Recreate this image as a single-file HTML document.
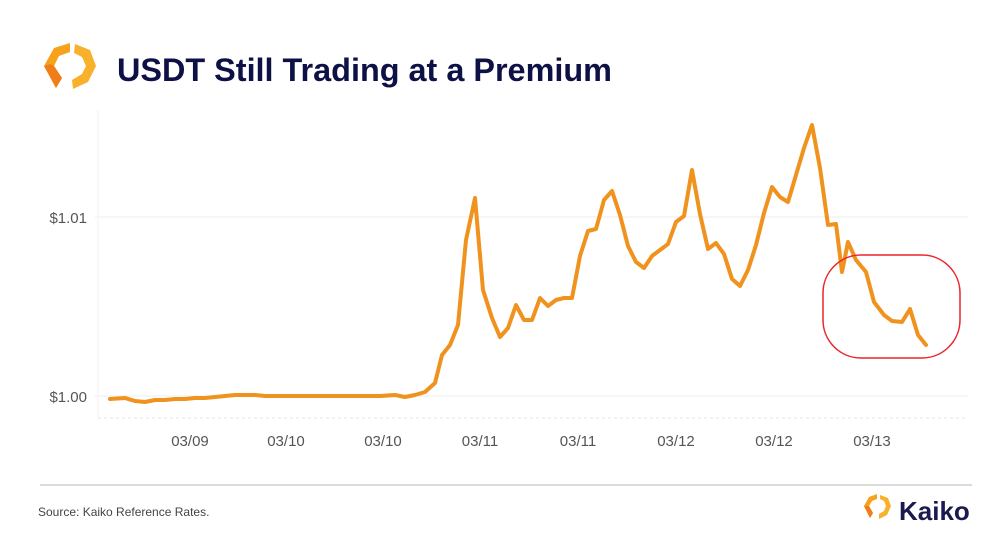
<!DOCTYPE html>
<html><head><style>
body{margin:0;width:1008px;height:546px;background:#fff;overflow:hidden;font-family:"Liberation Sans",sans-serif}
</style></head><body>
<svg width="1008" height="546" viewBox="0 0 1008 546" xmlns="http://www.w3.org/2000/svg" style="position:absolute;left:0;top:0">
<g>
<polygon points="70,43 54,48 44,66 56,88 62,78 54,66 59,56 70,52" fill="#f7a21b"/>
<polygon points="44,66 56,88 62,78 54,66 50,64" fill="#f07d18"/>
<polygon points="75,44 90,50 96,66 88,82 73,89 72,80 82,74 86,66 82,57 74,53" fill="#f9b02a"/>
</g>
<text x="117" y="81" font-size="32.4" font-weight="bold" fill="#0e1145" font-family="Liberation Sans,sans-serif">USDT Still Trading at a Premium</text>
<line x1="95" y1="217" x2="968" y2="217" stroke="#ececec" stroke-width="1"/>
<line x1="95" y1="396" x2="968" y2="396" stroke="#ececec" stroke-width="1"/>
<line x1="98" y1="418" x2="968" y2="418" stroke="#e6e6e6" stroke-width="1" stroke-dasharray="3,3"/>
<line x1="98" y1="110" x2="98" y2="418" stroke="#f2f2f2" stroke-width="1"/>
<text x="87" y="223" font-size="15" fill="#555" text-anchor="end">$1.01</text>
<text x="87" y="402" font-size="15" fill="#555" text-anchor="end">$1.00</text>
<g font-size="15" fill="#555" text-anchor="middle">
<text x="190" y="446">03/09</text><text x="286" y="446">03/10</text><text x="383" y="446">03/10</text><text x="480" y="446">03/11</text><text x="578" y="446">03/11</text><text x="676" y="446">03/12</text><text x="774" y="446">03/12</text><text x="872" y="446">03/13</text>
</g>
<polyline fill="none" stroke="#f0921e" stroke-width="4" stroke-linejoin="round" stroke-linecap="round" points="110,399 125,398 135,401 145,402 155,400 165,400 175,399 185,399 195,398 205,398 215,397 225,396 235,395 245,395 255,395 265,396 275,396 285,396 300,396 320,396 340,396 360,396 380,396 395,395 405,397 415,395 425,392 435,383 442,355 450,345 458,325 466,240 475,198 483,290 492,318 500,337 508,328 516,305 524,320 532,320 540,298 548,306 556,300 564,298 572,298 580,256 588,231 596,229 604,200 612,191 620,215 628,246 636,262 644,268 652,256 660,250 668,244 676,222 684,216 692,170 700,214 708,249 716,243 724,254 732,279 740,286 748,270 756,245 764,213 772,187 780,197 788,202 796,175 804,148 812,125 820,168 828,225 836,224 842,272 848,242 856,260 866,272 874,302 884,315 892,321 902,322 910,309 918,335 926,345"/>
<rect x="823" y="255" width="137" height="103" rx="38" ry="38" fill="none" stroke="#e8262c" stroke-width="1.5"/>
<line x1="40" y1="485" x2="972" y2="485" stroke="#cfcfcf" stroke-width="1.5"/>
<text x="38" y="516" font-size="12" fill="#444">Source: Kaiko Reference Rates.</text>
<g>
<polygon points="877,494 869,497 864,506 870,518 873,513 869,506 872,501 877,499" fill="#f7a21b"/>
<polygon points="864,506 870,518 873,513 869,506" fill="#f07d18"/>
<polygon points="880,495 888,498 891,506 887,515 879,519 879,514 884,511 886,506 884,501 880,499" fill="#f9b02a"/>
</g>
<text x="899" y="520" font-size="26" font-weight="bold" fill="#1a1a4e">Kaiko</text>
</svg>
</body></html>
